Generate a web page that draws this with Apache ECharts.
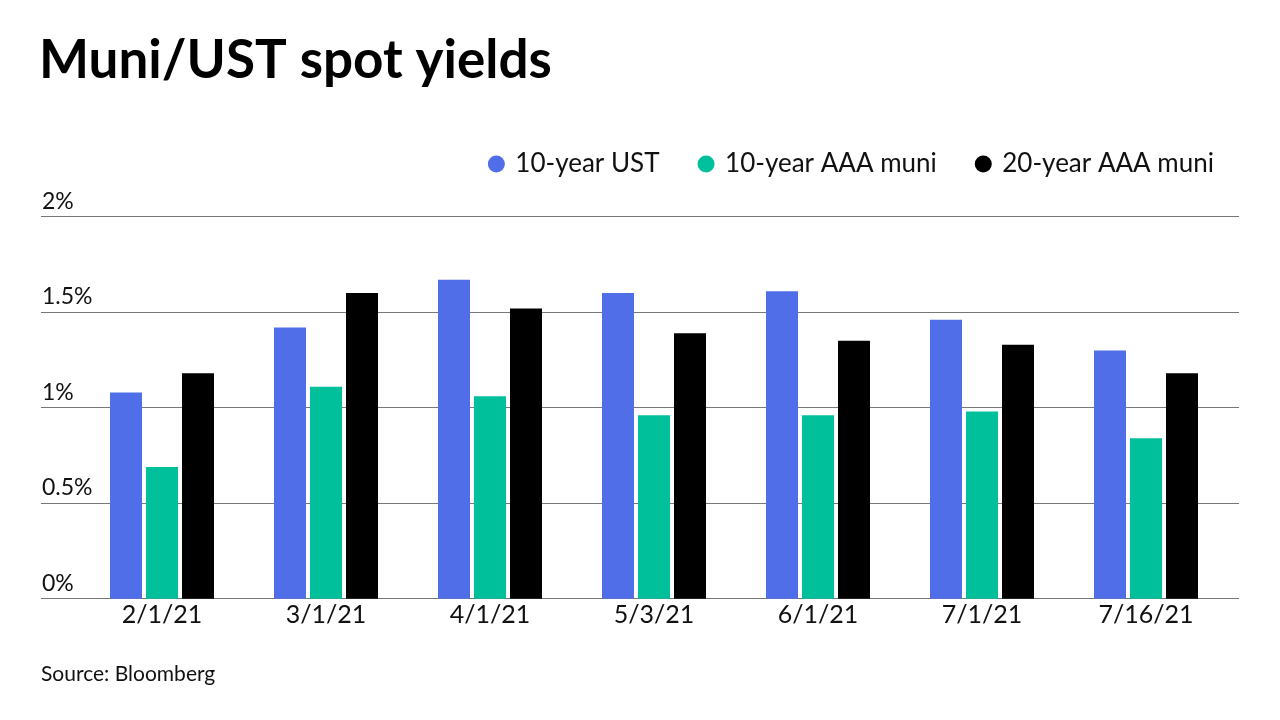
<!DOCTYPE html>
<html>
<head>
<meta charset="utf-8">
<script src="https://cdn.jsdelivr.net/npm/echarts@6/dist/echarts.min.js"></script>
<style>
html,body{margin:0;padding:0;background:#fff;}
#chart{width:1280px;height:720px;}
</style>
</head>
<body>
<div id="chart"></div>
<script>
const categories = ['2/1/21','3/1/21','4/1/21','5/3/21','6/1/21','7/1/21','7/16/21'];
const ust10 = [1.08, 1.42, 1.67, 1.60, 1.61, 1.46, 1.30];
const muni10 = [0.69, 1.11, 1.06, 0.96, 0.96, 0.98, 0.84];
const muni20 = [1.18, 1.60, 1.52, 1.39, 1.35, 1.33, 1.18];
const seriesNames = ['10-year UST', '10-year AAA muni', '20-year AAA muni'];
const colors = ['#4f6ee8', '#00bf9b', '#000000'];

const chart = echarts.init(document.getElementById('chart'));
const font = 'Lato, "Noto Sans", sans-serif';
const gridTop = 216.7, gridBottom = 121.3;
chart.setOption({
  backgroundColor: '#fff',
  animation: false,
  textStyle: { fontFamily: font },
  title: [
    { text: 'Muni/UST spot yields', left: 39, top: 34.5, padding: 0,
      textStyle: { fontSize: 53, fontWeight: 'bold', color: '#000', fontFamily: font } },
    { text: 'Source: Bloomberg', left: 41, top: 664, padding: 0,
      textStyle: { fontSize: 21, fontWeight: 'normal', color: '#111', fontFamily: font } }
  ],
  legend: {
    right: 61, top: 146,
    icon: 'circle', itemWidth: 28, itemHeight: 17, itemGap: 38,
    textStyle: { fontSize: 26, color: '#111', fontFamily: font },
    data: seriesNames
  },
  grid: [
    { left: 41, right: 41, top: gridTop, bottom: gridBottom },
    { left: 80, right: 52, top: gridTop, bottom: gridBottom }
  ],
  xAxis: [
    { gridIndex: 0, type: 'value', show: false, min: 0, max: 1 },
    { gridIndex: 1, type: 'category', data: categories,
      axisLine: { show: false }, axisTick: { show: false },
      axisLabel: { fontSize: 25, color: '#111', margin: 4, fontFamily: font } }
  ],
  yAxis: [
    { gridIndex: 0, type: 'value', min: 0, max: 2, interval: 0.5,
      axisLine: { show: false }, axisTick: { show: false },
      splitLine: { lineStyle: { color: '#777', width: 1.2 } },
      axisLabel: { inside: true, margin: 1, align: 'left', verticalAlign: 'bottom',
        padding: [0, 0, 4, 0], fontSize: 23, color: '#111', fontFamily: font,
        formatter: v => v + '%' } },
    { gridIndex: 1, type: 'value', min: 0, max: 2, interval: 0.5, show: false,
      splitLine: { show: false } }
  ],
  series: [
    { name: seriesNames[0], type: 'bar', xAxisIndex: 1, yAxisIndex: 1, data: ust10,
      barWidth: 32, barGap: '12.5%', itemStyle: { color: colors[0] } },
    { name: seriesNames[1], type: 'bar', xAxisIndex: 1, yAxisIndex: 1, data: muni10,
      barWidth: 32, barGap: '12.5%', itemStyle: { color: colors[1] } },
    { name: seriesNames[2], type: 'bar', xAxisIndex: 1, yAxisIndex: 1, data: muni20,
      barWidth: 32, barGap: '12.5%', itemStyle: { color: colors[2] } }
  ]
});
</script>
</body>
</html>
